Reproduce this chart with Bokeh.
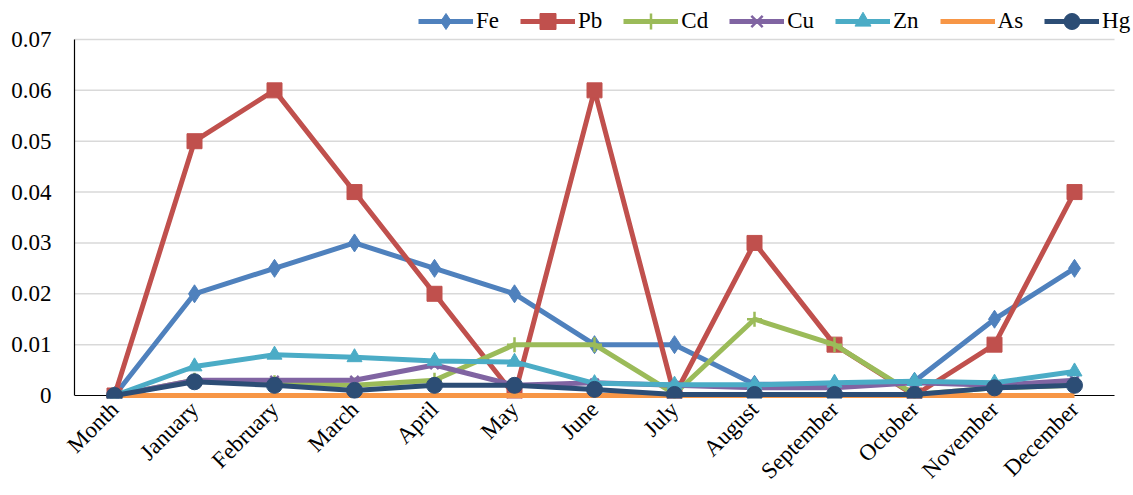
import math
from bokeh.plotting import figure
from bokeh.models import (Range1d, FixedTicker, CustomJSTickFormatter,
                          Legend, LegendItem)
from bokeh.embed import file_html
from bokeh.resources import INLINE

months = ["Month", "January", "February", "March", "April", "May", "June", "July",
          "August", "September", "October", "November", "December"]
y_ticks = [0, 0.01, 0.02, 0.03, 0.04, 0.05, 0.06, 0.07]

fe = [0, 0.020, 0.025, 0.030, 0.025, 0.020, 0.010, 0.010, 0.0022, 0.0022, 0.0028, 0.015, 0.025]
pb = [0, 0.050, 0.060, 0.040, 0.020, 0.000, 0.060, 0.000, 0.030, 0.010, 0.000, 0.010, 0.040]
cd = [0, 0.0030, 0.0025, 0.0020, 0.0030, 0.010, 0.010, 0.0003, 0.015, 0.010, 0.0002, 0.0015, 0.0020]
cu = [0, 0.0030, 0.0030, 0.0030, 0.0060, 0.0020, 0.0025, 0.0020, 0.0015, 0.0015, 0.0025, 0.0020, 0.0030]
zn = [0, 0.0057, 0.0080, 0.0075, 0.0068, 0.0066, 0.0024, 0.0021, 0.0021, 0.0025, 0.0028, 0.0025, 0.0047]
as_ = [0] * 13
hg = [0, 0.0027, 0.0020, 0.0010, 0.0020, 0.0020, 0.0012, 0.0002, 0.0002, 0.0002, 0.0002, 0.0015, 0.0020]

series = [
    ("Fe", fe, "#4F81BD", "diamond", 18),
    ("Pb", pb, "#C0504D", "square", 15),
    ("Cd", cd, "#9BBB59", "cross", 15),
    ("Cu", cu, "#8064A2", "x", 12),
    ("Zn", zn, "#4BACC6", "triangle", 15),
    ("As", as_, "#F79646", None, 0),
    ("Hg", hg, "#2C4D75", "circle", 16),
]

FONT = "Liberation Serif"
FS = "23px"
W, H = 1133, 495
LEFT, TOP_PLOT, ZERO = 74, 39, 395        # pixel layout of the plot area
BELOW = 3                                 # frame extends a few px under zero
STEP = 80                                 # pixels per category
xs = list(range(len(months)))
x_lo, x_hi = -0.5, len(months) - 0.5
x_end = x_lo + (W - LEFT) / STEP
per_px = y_ticks[-1] / (ZERO - TOP_PLOT)
y_top = per_px * ZERO
y_bot = -per_px * BELOW

p = figure(width=W, height=H, x_range=Range1d(x_lo, x_end),
           y_range=Range1d(y_bot, y_top), output_backend="svg", toolbar_location=None,
           min_border_left=LEFT, min_border_right=0, min_border_top=0,
           min_border_bottom=H - ZERO - BELOW)
p.outline_line_color = None
p.background_fill_color = "white"
p.border_fill_color = "white"
p.xgrid.grid_line_color = None
p.ygrid.grid_line_color = None

# horizontal gridlines and zero baseline limited to the category extent
gy = y_ticks[1:]
p.segment(x0=[x_lo] * len(gy), x1=[x_hi] * len(gy), y0=gy, y1=gy,
          line_color="#D9D9D9", line_width=1.5, level="underlay")
p.segment(x0=[x_lo], x1=[x_hi], y0=[y_ticks[0]], y1=[y_ticks[0]],
          line_color="black", line_width=1.2, level="underlay")

p.yaxis.ticker = FixedTicker(ticks=y_ticks)
p.yaxis.formatter = CustomJSTickFormatter(
    code="var s = tick.toFixed(2); if (s === '0.00') return '0'; return s;")
p.yaxis.bounds = (0, y_ticks[-1])
p.xaxis.ticker = FixedTicker(ticks=xs)
p.xaxis.major_label_overrides = {i: m for i, m in enumerate(months)}
p.xaxis.bounds = (x_lo, x_hi)
for ax in (p.xaxis, p.yaxis):
    ax.major_label_text_font = FONT
    ax.major_label_text_font_size = FS
    ax.major_label_text_color = "black"
    ax.major_tick_line_color = None
    ax.minor_tick_line_color = None
    ax.axis_line_color = "black"
    ax.axis_line_width = 1.2
p.xaxis.axis_line_color = None
p.yaxis.major_label_standoff = 17
p.xaxis.major_label_orientation = math.pi / 4
p.xaxis.major_label_standoff = 1

items = []
for name, vals, color, marker, size in series:
    rs = [p.line(xs, vals, line_color=color, line_width=5)]
    if marker:
        if marker in ("cross", "x"):
            rs.append(p.scatter(xs, vals, marker=marker, size=size,
                                line_color=color, line_width=2.5, fill_color=color))
        else:
            rs.append(p.scatter(xs, vals, marker=marker, size=size,
                                line_color=color, fill_color=color))
    items.append(LegendItem(label=name, renderers=rs))

legend = Legend(items=items, orientation="horizontal", location=(418 - LEFT, ZERO + BELOW - 41),
                label_text_font=FONT, label_text_font_size=FS,
                label_text_color="black", glyph_width=55, glyph_height=40,
                label_height=40, label_standoff=3, spacing=21, padding=0, margin=0,
                border_line_color=None, background_fill_alpha=0)
p.add_layout(legend, "center")

open("out.html", "w").write(file_html(p, INLINE))
